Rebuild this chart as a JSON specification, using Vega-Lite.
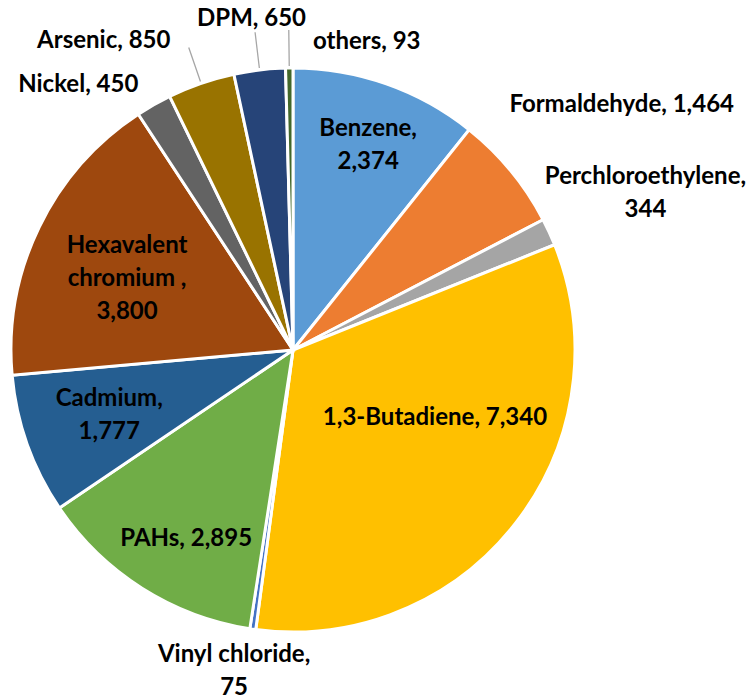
{
  "$schema": "https://vega.github.io/schema/vega-lite/v6.json",
  "width": 586,
  "height": 700,
  "autosize": {"type": "none"},
  "padding": {"left": 0, "top": 0, "right": 169, "bottom": 0},
  "background": "white",
  "config": {
    "view": {"stroke": null},
    "text": {"font": "Lato", "fontWeight": "bold", "fontSize": 24, "lineHeight": 33, "lineBreak": "\n", "color": "#000000", "baseline": "middle", "align": "center"}
  },
  "data": {
    "values": [
      {"i": 1, "name": "Benzene", "value": 2374, "label": "Benzene,\n2,374"},
      {"i": 2, "name": "Formaldehyde", "value": 1464, "label": "Formaldehyde, 1,464"},
      {"i": 3, "name": "Perchloroethylene", "value": 344, "label": "Perchloroethylene,\n344"},
      {"i": 4, "name": "1,3-Butadiene", "value": 7340, "label": "1,3-Butadiene, 7,340"},
      {"i": 5, "name": "Vinyl chloride", "value": 75, "label": "Vinyl chloride,\n75"},
      {"i": 6, "name": "PAHs", "value": 2895, "label": "PAHs, 2,895"},
      {"i": 7, "name": "Cadmium", "value": 1777, "label": "Cadmium,\n1,777"},
      {"i": 8, "name": "Hexavalent chromium", "value": 3800, "label": "Hexavalent\nchromium ,\n3,800"},
      {"i": 9, "name": "Nickel", "value": 450, "label": "Nickel, 450"},
      {"i": 10, "name": "Arsenic", "value": 850, "label": "Arsenic, 850"},
      {"i": 11, "name": "DPM", "value": 650, "label": "DPM, 650"},
      {"i": 12, "name": "others", "value": 93, "label": "others, 93"}
    ]
  },
  "encoding": {
    "theta": {"field": "value", "type": "quantitative", "stack": true},
    "order": {"field": "i", "type": "quantitative"},
    "detail": {"field": "name", "type": "nominal"}
  },
  "layer": [
    {
      "mark": {"type": "arc", "radius": 282, "stroke": "white", "strokeWidth": 3},
      "encoding": {
        "color": {
          "field": "name", "type": "nominal", "legend": null,
          "scale": {
            "domain": ["Benzene", "Formaldehyde", "Perchloroethylene", "1,3-Butadiene", "Vinyl chloride", "PAHs", "Cadmium", "Hexavalent chromium", "Nickel", "Arsenic", "DPM", "others"],
            "range": ["#5B9BD5", "#ED7D31", "#A5A5A5", "#FFC000", "#4472C4", "#70AD47", "#255E91", "#9E480E", "#636363", "#997300", "#264478", "#43682B"]
          }
        }
      }
    },
    {
      "mark": {"type": "arc", "radius": 320, "radius2": 284, "padAngle": 1, "fill": "transparent", "stroke": "#A6A6A6", "strokeWidth": 1.3},
      "encoding": {
        "strokeOpacity": {"condition": {"test": "indexof(['Arsenic','DPM','others'], datum.name) >= 0", "value": 1}, "value": 0}
      }
    },
    {"mark": {"type": "text", "radius": 218, "dx": 3, "dy": -15},
     "encoding": {"text": {"condition": {"test": "datum.name === 'Benzene'", "field": "label"}, "value": ""}}},
    {"mark": {"type": "text", "radius": 410, "dx": 12, "dy": 15},
     "encoding": {"text": {"condition": {"test": "datum.name === 'Formaldehyde'", "field": "label"}, "value": ""}}},
    {"mark": {"type": "text", "radius": 388, "dy": -11},
     "encoding": {"text": {"condition": {"test": "datum.name === 'Perchloroethylene'", "field": "label"}, "value": ""}}},
    {"mark": {"type": "text", "radius": 157, "dx": 18, "dy": -28},
     "encoding": {"text": {"condition": {"test": "datum.name === '1,3-Butadiene'", "field": "label"}, "value": ""}}},
    {"mark": {"type": "text", "radius": 322, "dx": -13, "dy": -14},
     "encoding": {"text": {"condition": {"test": "datum.name === 'Vinyl chloride'", "field": "label"}, "value": ""}}},
    {"mark": {"type": "text", "radius": 220, "dx": 11, "dy": 3},
     "encoding": {"text": {"condition": {"test": "datum.name === 'PAHs'", "field": "label"}, "value": ""}}},
    {"mark": {"type": "text", "radius": 194, "dx": -1, "dy": -16},
     "encoding": {"text": {"condition": {"test": "datum.name === 'Cadmium'", "field": "label"}, "value": ""}}},
    {"mark": {"type": "text", "radius": 181, "dx": -3, "dy": -25},
     "encoding": {"text": {"condition": {"test": "datum.name === 'Hexavalent chromium'", "field": "label"}, "value": ""}}},
    {"mark": {"type": "text", "radius": 305, "dx": -4, "align": "right"},
     "encoding": {"text": {"condition": {"test": "datum.name === 'Nickel'", "field": "label"}, "value": ""}}},
    {"mark": {"type": "text", "radius": 327, "dx": -16, "align": "right"},
     "encoding": {"text": {"condition": {"test": "datum.name === 'Arsenic'", "field": "label"}, "value": ""}}},
    {"mark": {"type": "text", "radius": 333, "dx": -2},
     "encoding": {"text": {"condition": {"test": "datum.name === 'DPM'", "field": "label"}, "value": ""}}},
    {"mark": {"type": "text", "radius": 308, "dx": 24, "align": "left"},
     "encoding": {"text": {"condition": {"test": "datum.name === 'others'", "field": "label"}, "value": ""}}}
  ]
}
